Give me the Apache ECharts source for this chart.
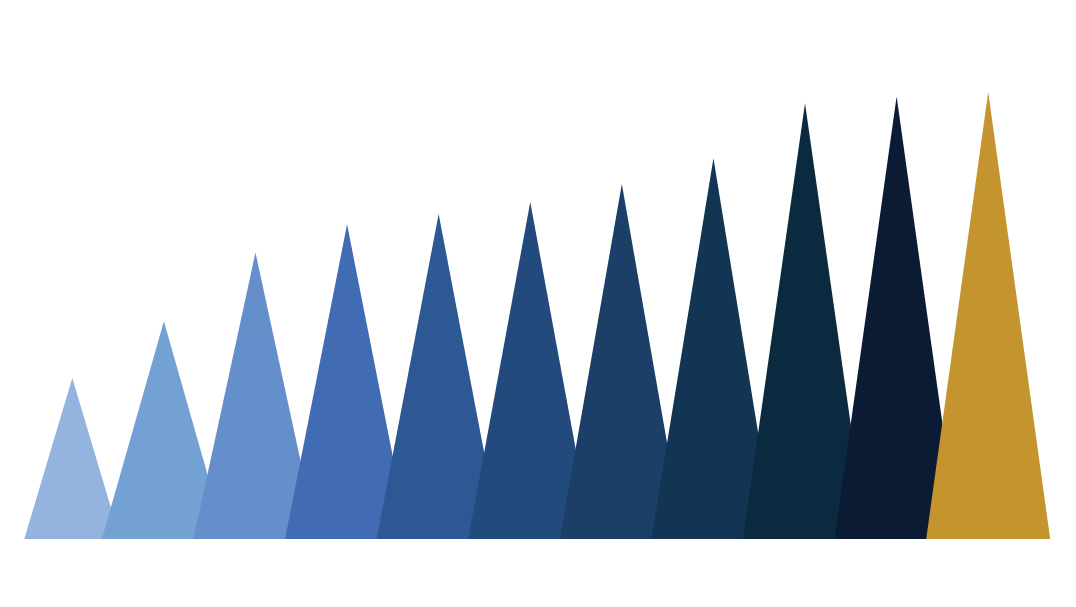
<!DOCTYPE html>
<html>
<head>
<meta charset="utf-8">
<script src="https://cdn.jsdelivr.net/npm/echarts@6/dist/echarts.min.js"></script>
<style>
  html, body { margin: 0; padding: 0; background: #fff; }
  #chart { width: 1076px; height: 607px; }
</style>
</head>
<body>
<div id="chart"></div>
<script>
// 数据
const categories = ["1", "2", "3", "4", "5", "6", "7", "8", "9", "10", "11"];
const values = [36, 48.7, 64.1, 70.4, 72.7, 75.4, 79.4, 85.2, 97.5, 99, 100];
const colors = [
  "#95B3DF", "#73A1D4", "#658FCA", "#416CB3", "#2D5894", "#224A7C",
  "#1B3F67", "#113552", "#0C2A3F", "#0C1B34", "#C4942E",
];

const chart = echarts.init(document.getElementById("chart"));

const option = {
  backgroundColor: "#fff",
  animation: false,
  grid: {
    left: 26.5,
    right: 42,
    top: 92,
    bottom: 68,
  },
  xAxis: {
    type: "category",
    data: categories,
    show: false,
  },
  yAxis: {
    type: "value",
    min: 0,
    max: 100,
    show: false,
  },
  series: [
    {
      type: "pictorialBar",
      symbol: "triangle",
      symbolPosition: "start",
      symbolSize: [124, "100%"],
      data: values.map((v, i) => ({
        value: v,
        symbolSize: i === 0 ? [96, "100%"] : [124, "100%"],
        itemStyle: { color: colors[i], opacity: 1 },
      })),
    },
  ],
};

chart.setOption(option);
</script>
</body>
</html>
